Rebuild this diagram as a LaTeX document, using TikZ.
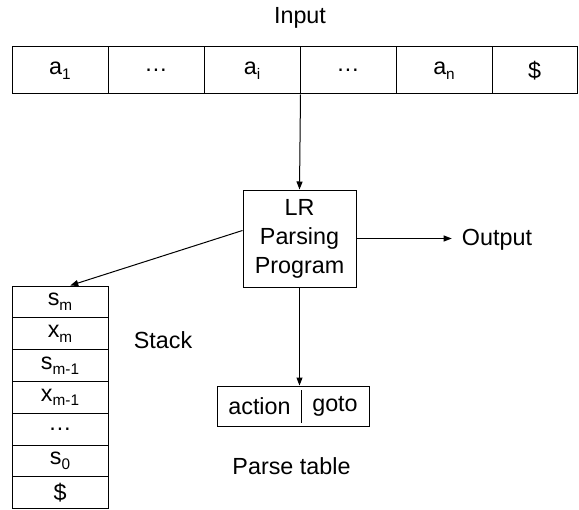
\documentclass[tikz,border=0pt]{standalone}
\usepackage{fontspec}
\setmainfont{Liberation Sans}
\usetikzlibrary{arrows.meta, positioning}
\tikzstyle{cell}=[draw=black, shape=rectangle, line width=0.75pt, inner sep=0pt, minimum width=72pt, minimum height=35.25pt]
\tikzstyle{slot}=[draw=black, shape=rectangle, line width=0.75pt, inner sep=0pt, minimum width=72pt, minimum height=23.85pt]
\tikzstyle{lbl}=[inner sep=0pt]
\tikzstyle{arr}=[line width=0.75pt, -{Triangle[length=6pt, width=4.5pt]}]
% lowered index, smaller than the text
\newcommand{\lo}[1]{\raisebox{-3.5pt}{\fontsize{11.5}{11.5}\selectfont #1}}

\begin{document}
\begin{tikzpicture}[x=0.75pt, y=-0.75pt, font=\fontsize{17.5}{21.75}\selectfont]
	\useasboundingbox (0,0) rectangle (579,510);

	% input tape
	\node[lbl] (inp) at (300,18) {Input};
	\node[style=cell] (a1) at (60,70.5) {a\lo{1}};
	\node[style=cell] (d1) at (156,70.5) {\dots};
	\node[style=cell] (ai) at (252,70.5) {a\lo{i}};
	\node[style=cell] (d2) at (348,70.5) {\dots};
	\node[style=cell] (an) at (444,70.5) {a\lo{n}};
	\node[style=cell, minimum width=63.75pt] (end) at (534.5,70.5) {\$};

	% driver
	\node[style=cell, minimum width=84.75pt, minimum height=72.75pt, align=center] (prog) at (299.5,238.5) {LR\\Parsing\\Program};
	\node[lbl, inner xsep=7.5pt] (out) at (497,240) {Output};

	% stack
	\node[style=slot] (s1) at (60,301.9) {s\lo{m}};
	\node[style=slot] (s2) at (60,333.7) {x\lo{m}};
	\node[style=slot] (s3) at (60,365.5) {s\lo{m-1}};
	\node[style=slot] (s4) at (60,397.3) {x\lo{m-1}};
	\node[style=slot] (s5) at (60,429.1) {\dots};
	\node[style=slot] (s6) at (60,460.9) {s\lo{0}};
	\node[style=slot] (s7) at (60,492.7) {\$};
	\node[lbl] (stk) at (163,340) {Stack};

	% parse table
	\node[style=cell, minimum width=114pt, minimum height=30pt] (tbl) at (293,406) {};
	\node[lbl] (act) at (259.5,406) {action};
	\node[lbl] (gto) at (335,406) {goto};
	\draw[line width=0.75pt] (301,390) -- (301,423);
	\node[lbl] (ptb) at (291.5,466) {Parse table};

	\draw[arr] (ai.south east) -- (prog.north);
	\draw[arr] (prog.east) -- (prog.east -| out.west);
	\draw[arr] (prog.172) -- (s1.58);
	\draw[arr] (prog.south) -- (prog.south |- tbl.north);
\end{tikzpicture}
\end{document}
